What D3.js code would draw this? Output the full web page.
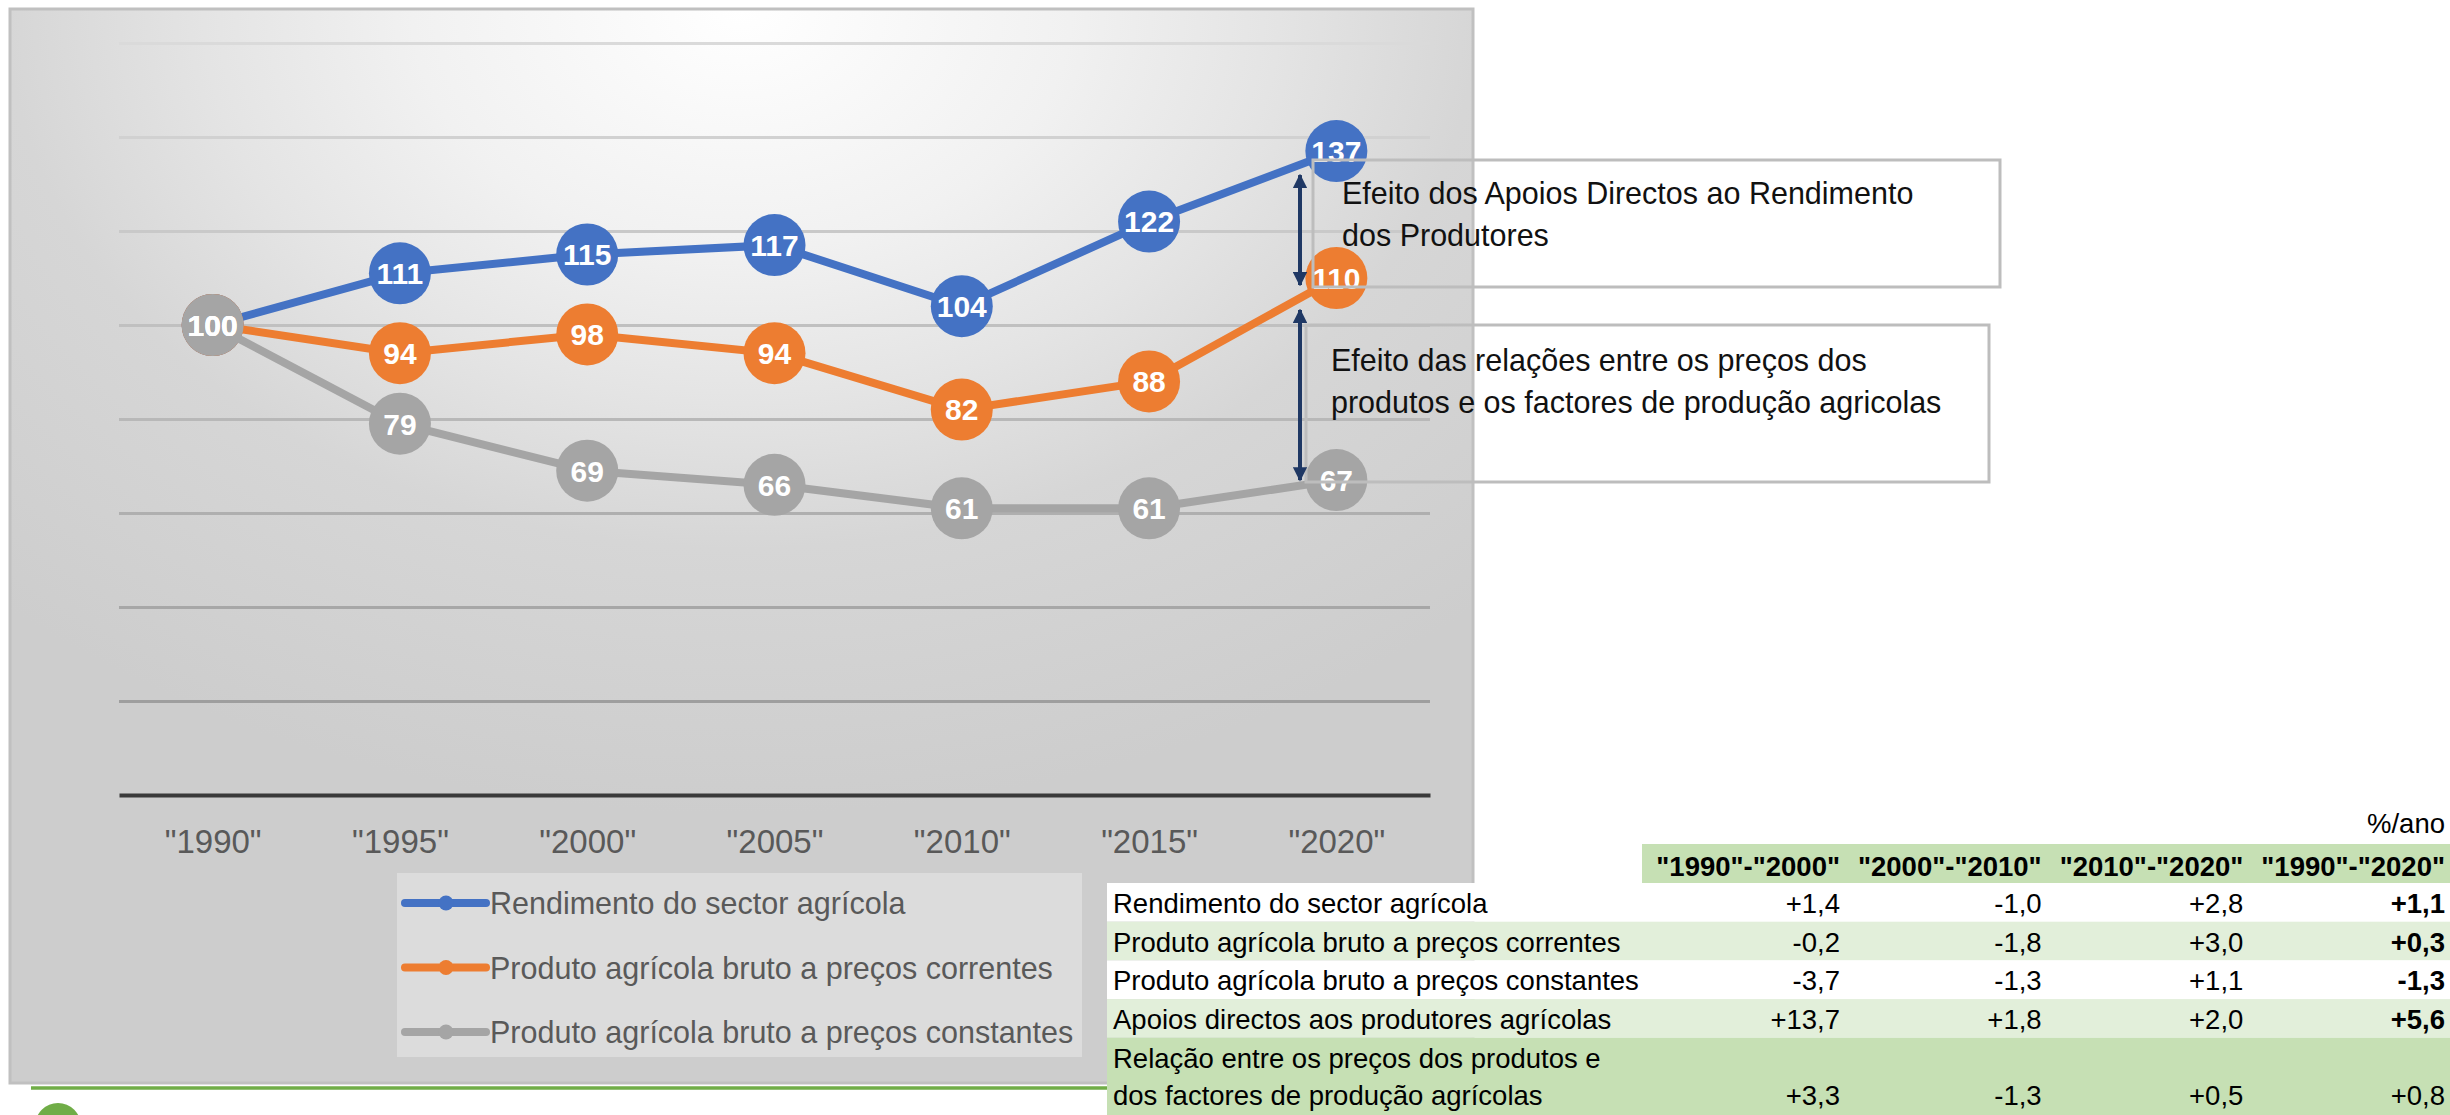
<!DOCTYPE html>
<html>
<head>
<meta charset="utf-8">
<script src="https://cdn.jsdelivr.net/npm/d3@7"></script>
<style>
  body { margin: 0; background: #ffffff; }
  svg { display: block; font-family: "Liberation Sans", Arial, sans-serif; }
</style>
</head>
<body>
<div id="wrapper"></div>
<script>
// chart data
const years = ['"1990"', '"1995"', '"2000"', '"2005"', '"2010"', '"2015"', '"2020"'];
const rendimento = [100, 111, 115, 117, 104, 122, 137];
const correntes = [100, 94, 98, 94, 82, 88, 110];
const constantes = [100, 79, 69, 66, 61, 61, 67];
const seriesNames = [
    "Rendimento do sector agrícola",
    "Produto agrícola bruto a preços correntes",
    "Produto agrícola bruto a preços constantes"
];
const gridValues = [0, 20, 40, 60, 80, 100, 120, 140, 160];

// table data
const periods = ['"1990"-"2000"', '"2000"-"2010"', '"2010"-"2020"', '"1990"-"2020"'];
const rowLabels = [
    ["Rendimento do sector agrícola"],
    ["Produto agrícola bruto a preços correntes"],
    ["Produto agrícola bruto a preços constantes"],
    ["Apoios directos aos produtores agrícolas"],
    ["Relação entre os preços dos produtos e", "dos factores de produção agrícolas"]
];
const rowValues = [
    ["+1,4", "-1,0", "+2,8", "+1,1"],
    ["-0,2", "-1,8", "+3,0", "+0,3"],
    ["-3,7", "-1,3", "+1,1", "-1,3"],
    ["+13,7", "+1,8", "+2,0", "+5,6"],
    ["+3,3", "-1,3", "+0,5", "+0,8"]
];

const annotations = [
    ["Efeito dos Apoios Directos ao Rendimento", "dos Produtores"],
    ["Efeito das relações entre os preços dos", "produtos e os factores de produção agricolas"]
];

const colors = ["#4472C4", "#ED7D31", "#A5A5A5"];

const series = [rendimento, correntes, constantes].map((vals, i) => ({
    name: seriesNames[i],
    color: colors[i],
    values: vals.map((v, j) => ({ year: years[j], value: v }))
}));

const W = 2450, H = 1115;
const svg = d3.select("#wrapper").append("svg")
    .attr("width", W)
    .attr("height", H);

const defs = svg.append("defs");

// background of the chart frame
const bg = defs.append("radialGradient")
    .attr("id", "bg")
    .attr("cx", 0.5).attr("cy", 0).attr("r", 0.75);
[[0, "#ffffff"], [0.3, "#f1f1f1"], [0.49, "#e4e4e4"], [0.67, "#d6d6d6"], [1, "#cdcdcd"]]
    .forEach(s => bg.append("stop").attr("offset", s[0]).attr("stop-color", s[1]));

defs.append("marker")
    .attr("id", "arrowHead")
    .attr("viewBox", "0 0 10 10")
    .attr("refX", 9).attr("refY", 5)
    .attr("markerWidth", 3.6).attr("markerHeight", 3.6)
    .attr("markerUnits", "strokeWidth")
    .attr("orient", "auto-start-reverse")
    .append("path")
    .attr("d", "M0,0 L10,5 L0,10 z")
    .attr("fill", "#1F3864");

// chart frame
svg.append("rect")
    .attr("x", 10).attr("y", 9)
    .attr("width", 1463).attr("height", 1074)
    .attr("fill", "url(#bg)")
    .attr("stroke", "#c0c0c0")
    .attr("stroke-width", 3);

const x = d3.scalePoint()
    .domain(years)
    .range([119, 1430])
    .padding(0.5);

const y = d3.scaleLinear()
    .domain([0, 160])
    .range([795, 43]);

// gridlines get darker towards the bottom
const gridColor = d3.scaleLinear()
    .domain([160, 20])
    .range(["#dadada", "#9e9e9e"]);

const grid = svg.append("g")
    .attr("transform", "translate(119,0)")
    .call(d3.axisLeft(y).tickValues(gridValues.slice(1)).tickSize(-(1430 - 119)).tickFormat(""));
grid.select(".domain").remove();
grid.selectAll(".tick line")
    .attr("stroke", d => gridColor(d))
    .attr("stroke-width", 3);

// x axis
const xAxis = svg.append("g")
    .attr("transform", `translate(0,${y(0)})`)
    .call(d3.axisBottom(x).tickSize(0).tickSizeOuter(0).tickPadding(35));
xAxis.select(".domain")
    .attr("stroke", "#3a3a3a")
    .attr("stroke-width", 4);
xAxis.selectAll(".tick text")
    .attr("font-family", "Liberation Sans, Arial, sans-serif")
    .attr("font-size", 33)
    .attr("fill", "#595959");

// lines and markers
const line = d3.line()
    .x(d => x(d.year))
    .y(d => y(d.value));

series.forEach(s => {
    const g = svg.append("g");
    g.append("path")
        .attr("d", line(s.values))
        .attr("fill", "none")
        .attr("stroke", s.color)
        .attr("stroke-width", 8)
        .attr("stroke-linejoin", "round")
        .attr("stroke-linecap", "round");
    g.selectAll("circle")
        .data(s.values)
        .join("circle")
        .attr("cx", d => x(d.year))
        .attr("cy", d => y(d.value))
        .attr("r", 31)
        .attr("fill", s.color);
});

// data labels
series.forEach(s => {
    svg.append("g").selectAll("text")
        .data(s.values)
        .join("text")
        .attr("x", d => x(d.year))
        .attr("y", d => y(d.value))
        .attr("dy", "0.36em")
        .attr("text-anchor", "middle")
        .attr("font-size", 30)
        .attr("font-weight", "bold")
        .attr("fill", "#ffffff")
        .text(d => d.value);
});

// legend
const legend = svg.append("g");
legend.append("rect")
    .attr("x", 397).attr("y", 873)
    .attr("width", 685).attr("height", 184)
    .attr("fill", "#ffffff")
    .attr("fill-opacity", 0.3);
const legendY = d3.scalePoint().domain(seriesNames).range([903, 1032]);
const item = legend.selectAll("g.item")
    .data(series)
    .join("g")
    .attr("class", "item")
    .attr("transform", d => `translate(0,${legendY(d.name)})`);
item.append("line")
    .attr("x1", 405).attr("x2", 486)
    .attr("stroke", d => d.color)
    .attr("stroke-width", 8)
    .attr("stroke-linecap", "round");
item.append("circle")
    .attr("cx", 446).attr("r", 7.5)
    .attr("fill", d => d.color);
item.append("text")
    .attr("x", 490).attr("y", 11)
    .attr("font-size", 30.5)
    .attr("fill", "#595959")
    .text(d => d.name);

// annotation boxes and arrows
const boxes = [
    { x: 1313, y: 160, w: 687, h: 127, tx: 1342, ty: 204 },
    { x: 1306, y: 325, w: 683, h: 157, tx: 1331, ty: 371 }
];
boxes.forEach((b, i) => {
    svg.append("rect")
        .attr("x", b.x).attr("y", b.y)
        .attr("width", b.w).attr("height", b.h)
        .attr("fill", "none")
        .attr("stroke", "#bdbdbd")
        .attr("stroke-width", 3);
    svg.append("text")
        .attr("font-size", 30.5)
        .attr("fill", "#111111")
        .selectAll("tspan")
        .data(annotations[i])
        .join("tspan")
        .attr("x", b.tx)
        .attr("y", (d, k) => b.ty + k * 42)
        .text(d => d);
});

const arrows = [
    { x: 1300, y1: y(rendimento[6]) + 24, y2: y(correntes[6]) + 7 },
    { x: 1300, y1: y(correntes[6]) + 32, y2: y(constantes[6]) }
];
svg.selectAll("line.arrow")
    .data(arrows)
    .join("line")
    .attr("class", "arrow")
    .attr("x1", d => d.x).attr("x2", d => d.x)
    .attr("y1", d => d.y1).attr("y2", d => d.y2)
    .attr("stroke", "#1F3864")
    .attr("stroke-width", 4)
    .attr("marker-start", "url(#arrowHead)")
    .attr("marker-end", "url(#arrowHead)");

// green rule and bullet at the bottom
svg.append("line")
    .attr("x1", 31).attr("x2", 1107)
    .attr("y1", 1088).attr("y2", 1088)
    .attr("stroke", "#70AD47")
    .attr("stroke-width", 3.5);
svg.append("circle")
    .attr("cx", 58).attr("cy", 1126).attr("r", 23)
    .attr("fill", "#70AD47");

// table
const rowH = 38.7;
const tableLeft = 1107;
const colX = d3.scaleLinear().domain([0, periods.length - 1]).range([1840, 2445]);
const rowTop = rowLabels.map((r, i) => 883 + i * rowH);
const rowFill = ["#ffffff", "#E2EFDA", "#ffffff", "#E2EFDA", "#C6E0B4"];

const table = svg.append("g").attr("font-size", 27.5).attr("fill", "#000000");

table.append("text")
    .attr("x", 2445).attr("y", 833)
    .attr("text-anchor", "end")
    .text("%/ano");

table.append("rect")
    .attr("x", 1642).attr("y", 844)
    .attr("width", W - 1642).attr("height", 39)
    .attr("fill", "#C6E0B4");
table.selectAll("text.head")
    .data(periods)
    .join("text")
    .attr("class", "head")
    .attr("x", (d, i) => colX(i))
    .attr("y", 876)
    .attr("text-anchor", "end")
    .attr("font-weight", "bold")
    .text(d => d);

const rows = table.selectAll("g.row")
    .data(rowLabels.map((lab, i) => ({ lab, vals: rowValues[i], top: rowTop[i], fill: rowFill[i], last: i === rowLabels.length - 1 })))
    .join("g")
    .attr("class", "row");
rows.append("rect")
    .attr("x", tableLeft).attr("y", d => d.top)
    .attr("width", W - tableLeft)
    .attr("height", d => d.lab.length * rowH + (d.last ? 2 : 0))
    .attr("fill", d => d.fill);
rows.each(function (d) {
    const g = d3.select(this);
    const base = d.top + 30;
    g.selectAll("text.lab")
        .data(d.lab)
        .join("text")
        .attr("class", "lab")
        .attr("x", 1113)
        .attr("y", (t, k) => base + k * 37)
        .text(t => t);
    g.selectAll("text.val")
        .data(d.vals)
        .join("text")
        .attr("class", "val")
        .attr("x", (t, k) => colX(k))
        .attr("y", base + (d.lab.length - 1) * 37)
        .attr("text-anchor", "end")
        .attr("font-weight", (t, k) => (k === 3 && !d.last) ? "bold" : "normal")
        .text(t => t);
});
</script>
</body>
</html>
